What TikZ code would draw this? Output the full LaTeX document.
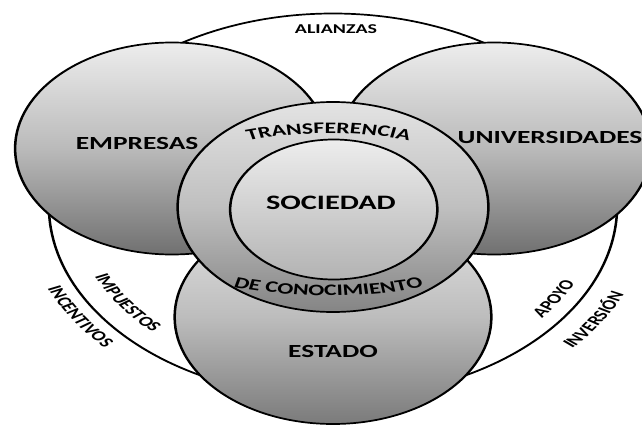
\documentclass[tikz,border=0pt]{standalone}
\usepackage{fontspec}
\setmainfont{Carlito}
\usetikzlibrary{decorations.text}
\tikzset{
  disc/.style={circle, draw=black, line width=1.7pt, inner sep=0pt},
  bigshade/.style={top color=black!7, bottom color=black!56, middle color=black!27},
  ringshade/.style={top color=black!11, bottom color=black!48, middle color=black!25},
  coreshade/.style={top color=black!7, bottom color=black!30},
  estshade/.style={top color=black!10, bottom color=black!52, middle color=black!26},
  lbl/.style={inner sep=0pt, text=black},
  bigfont/.style={font=\bfseries\fontsize{18.5}{18.5}\selectfont},
  smallfont/.style={font=\bfseries\fontsize{13.5}{13.5}\selectfont},
  curvetext/.style={decorate, decoration={text along path, text align=center, text={#1}}}
}
\begin{document}
\begin{tikzpicture}[x=1pt,y=1pt]
\path[use as bounding box, fill=white] (0,0) rectangle (642,-428);
\begin{scope}[transform canvas={xscale=1.48}]
  % circles
  \node[disc, minimum size=384pt, fill=white] (outer) at (225,-205.5) {};
  \node[disc, minimum size=212pt, bigshade] (emp) at (116.2,-148.5) {};
  \node[disc, minimum size=212pt, bigshade] (uni) at (333.8,-148.5) {};
  \node[disc, minimum size=214pt, estshade] (est) at (225,-317) {};
  \node[disc, minimum size=210pt, ringshade] (trans) at (225,-207) {};
  \node[disc, minimum size=140pt, coreshade] (soc) at (225.5,-209.5) {};
  % straight labels
  \node[lbl, smallfont] (tAli) at (227,-29) {ALIANZAS};
  \node[lbl, bigfont] (tEmp) at (92.6,-143.5) {EMPRESAS};
  \node[lbl, bigfont] (tUni) at (371.6,-137.5) {UNIVERSIDADES};
  \node[lbl, font=\bfseries\fontsize{20.5}{20.5}\selectfont] (tSoc) at (223.6,-203) {SOCIEDAD};
  \node[lbl, bigfont] (tEst) at (225,-351) {ESTADO};
  % curved labels in the ring
  \path[curvetext={|\bfseries\fontsize{16}{16}\selectfont|TRANSFERENCIA}]
    (96.43,-189.83) arc[start angle=165, end angle=15, x radius=130pt, y radius=76pt];
  \path[curvetext={|\bfseries\fontsize{16}{16}\selectfont|DE CONOCIMIENTO}]
    (77.11,-231.76) arc[start angle=195, end angle=345, x radius=150pt, y radius=86pt];
  % curved labels along the outer circle
  \path[curvetext={|\bfseries\fontsize{14}{14}\selectfont|IMPUESTOS}]
    (51.67,-236.06) arc[start angle=190, end angle=240, radius=176pt];
  \path[curvetext={|\bfseries\fontsize{14}{14}\selectfont|INCENTIVOS}]
    (17.04,-234.73) arc[start angle=188, end angle=238, radius=210pt];
  \path[curvetext={|\bfseries\fontsize{14}{14}\selectfont|APOYO}]
    (323.57,-357.3) arc[start angle=303, end angle=353, radius=181pt];
  \path[curvetext={|\bfseries\fontsize{14}{14}\selectfont|INVERSIÓN}]
    (339.46,-388.67) arc[start angle=302, end angle=352, radius=216pt];
\end{scope}
\end{tikzpicture}
\end{document}
